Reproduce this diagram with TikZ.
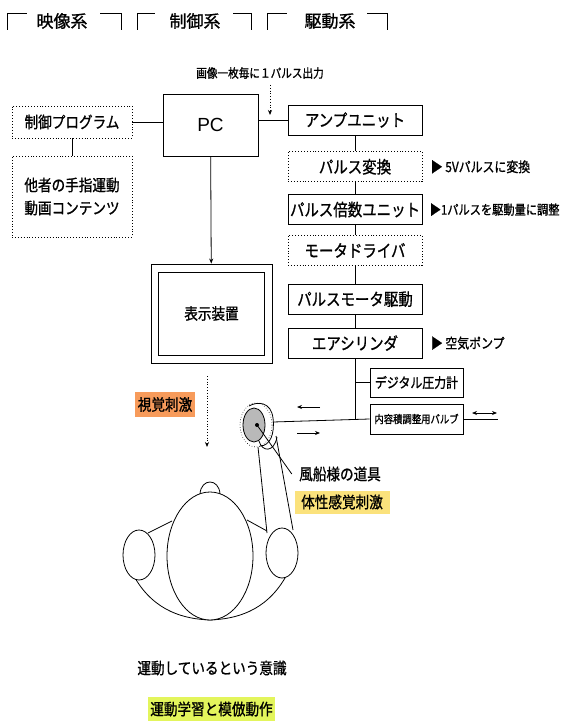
\documentclass[tikz,border=0pt]{standalone}
\usepackage{fontspec}
\usepackage{tikz}
\usetikzlibrary{positioning,arrows.meta}
\setmainfont{Liberation Sans}
\newfontfamily\jp[FakeStretch=0.85,FakeBold=1]{Noto Sans CJK JP}
\newfontfamily\jpw[FakeBold=1]{Noto Sans CJK JP}
\definecolor{visorange}{HTML}{F79B5B}
\definecolor{touchyellow}{HTML}{FBE27C}
\definecolor{learnlime}{HTML}{E3F55C}
\tikzset{
    block/.style={
        rectangle, draw, line width=0.9pt,
        minimum width=134pt, minimum height=30pt,
        inner sep=0pt, font=\jp\fontsize{17}{20}\selectfont
    },
    softblock/.style={
        block, dotted, line width=0.7pt
    },
    heading/.style={
        inner sep=0pt, font=\jpw\fontsize{17}{19}\selectfont
    },
    note/.style={
        anchor=west, inner sep=0pt,
        font=\jp\fontsize{14}{16}\selectfont
    },
    tag/.style={
        inner sep=0pt, font=\jp\fontsize{16}{18}\selectfont
    }
}

\begin{document}
\begin{tikzpicture}[x=1pt, y=-1pt, >={Stealth[length=5pt,width=4pt]}, line width=0.8pt]
    \useasboundingbox (0,0) rectangle (566,727);

        % Section headings
        \node[heading] (hvid) at (62,21) {映像系};
        \node[heading] (hctl) at (195,21) {制御系};
        \node[heading] (hdrv) at (330,21) {駆動系};
        \draw (7,30) |- (27,13);
        \draw (100,13) -| (121,30);
        \draw (137,30) |- (155,13);
        \draw (233,13) -| (251,30);
        \draw (267,30) |- (287,13);
        \draw (367,13) -| (387,30);

        % PC and program
        \node[block, minimum width=95pt, minimum height=62pt,
            font=\fontsize{19}{22}\selectfont] (pc) at (210.5,125) {PC};
        \node[softblock, minimum width=120pt, minimum height=32pt,
            font=\jp\fontsize{16}{18}\selectfont] (prog) at (72,122) {制御プログラム};
        \node[softblock, minimum width=120pt, minimum height=81pt, align=center,
            font=\jp\fontsize{16}{23}\selectfont] (clip) at (72,196.5)
            {他者の手指運動\\動画コンテンツ};
        \node[font=\jp\fontsize{12.5}{14}\selectfont] (pulsetxt) at (260,73)
            {画像一枚毎に１パルス出力};
        \coordinate (pulse) at (270,85);
        \coordinate (pulseend) at (270,115);

        % Drive chain
        \node[block] (amp) at (355,120) {アンプユニット};
        \node[softblock, below=16pt of amp] (conv) {パルス変換};
        \node[block, below=12pt of conv] (mult) {パルス倍数ユニット};
        \node[softblock, below=10pt of mult] (drv) {モータドライバ};
        \node[block, below=18pt of drv] (motor) {パルスモータ駆動};
        \node[block, below=13pt of motor] (cyl) {エアシリンダ};

        \node[note, right=8pt of conv] (convnote) {▶ 5Vパルスに変換};
        \node[note, right=7pt of mult, font=\jp\fontsize{13.2}{16}\selectfont]
            (multnote) {▶1パルスを駆動量に調整};
        \node[note, right=8pt of cyl] (cylnote) {▶ 空気ポンプ};

        % Gauge and valve
        \node[block, minimum width=93pt, minimum height=29pt,
            font=\jp\fontsize{14}{16}\selectfont] (gauge) at (416.5,382.5) {デジタル圧力計};
        \node[block, minimum width=93pt, minimum height=30pt,
            font=\jp\fontsize{11}{13}\selectfont] (valve) at (416.5,419) {内容積調整用バルブ};
        \coordinate (tee) at (355,419);
        \coordinate (port) at (273,422);
        \coordinate (exhaust) at (498,419);

        % Display
        \node[block, minimum width=121pt, minimum height=99pt] (screen) at (211.5,313.5) {};
        \node[block, minimum width=106pt, minimum height=83pt,
            font=\jp\fontsize{16}{18}\selectfont] (disp) at (screen.center) {表示装置};

        % Labels
        \node[tag, fill=visorange, minimum width=60pt, minimum height=25pt] (vis)
            at (165,404.5) {視覚刺激};
        \node[tag] (tool) at (340,474) {風船様の道具};
        \node[tag, fill=touchyellow, minimum width=95pt, minimum height=23pt] (touch)
            at (342,502) {体性感覚刺激};
        \node[tag] (aware) at (212,668) {運動しているという意識};
        \node[tag, fill=learnlime, minimum width=127pt, minimum height=24pt] (learn)
            at (211.5,709) {運動学習と模倣動作};

        % Connections
        \draw (prog.east) -- (pc.west |- prog.east);
        \draw (prog) -- (clip);
        \draw (amp.west -| pc.east) -- (amp.west);
        \draw[->, dotted] (pulse) -- (pulseend);
        \draw (amp) -- (conv);
        \draw (conv) -- (mult);
        \draw (mult) -- (drv);
        \draw (drv) -- (motor);
        \draw (motor) -- (cyl);
        \draw (cyl.south) -- (tee);
        \draw (gauge.west -| tee) -- (gauge.west);
        \draw (port) -- (valve.west);
        \draw (valve.east) -- (exhaust);
        \draw[->] (pc) -- (screen);
        \draw[->, dotted] (207,376) -- (207,447);

        % Air flow marks
        \draw[<->] (472,413) -- (497,413);
        \draw[->] (320,407) -- (297,407);
        \draw[->] (297,433) -- (320,433);

        % Balloon in the hand
        \draw[dotted, line width=0.6pt] (256,425) ellipse [x radius=16, y radius=22];
        \draw (249,406) .. controls (258,401) and (271,402) .. (273,418)
            .. controls (275,434) and (270,446) .. (260,446);
        \draw (259,441) .. controls (262,452) and (274,453) .. (277,437);
        \draw[fill=gray!55] (254,425) ellipse [x radius=11, y radius=17];
        \coordinate (grip) at (257,425);
        \fill (grip) circle[radius=2pt];
        \draw (grip) -- ([xshift=-7pt]tool.west);

        % Arm
        \draw (258,447) -- (267,533);
        \draw (276,436) -- (293,530);

        % Head and shoulders from above
        \draw (148,533) -- (172,521);
        \draw (247,520) -- (267,531);
        \draw (135,578) .. controls (155,612) and (185,619) .. (210,620)
            .. controls (235,619) and (265,612) .. (285,578);
        \draw (200,494) .. controls (201,478) and (219,478) .. (220,494);
        \draw[fill=white] (210,556) ellipse [x radius=43, y radius=64];
        \draw[fill=white] (139,555) ellipse [x radius=16, y radius=25];
        \draw[fill=white] (282,553) ellipse [x radius=16, y radius=25];

\end{tikzpicture}
\end{document}
